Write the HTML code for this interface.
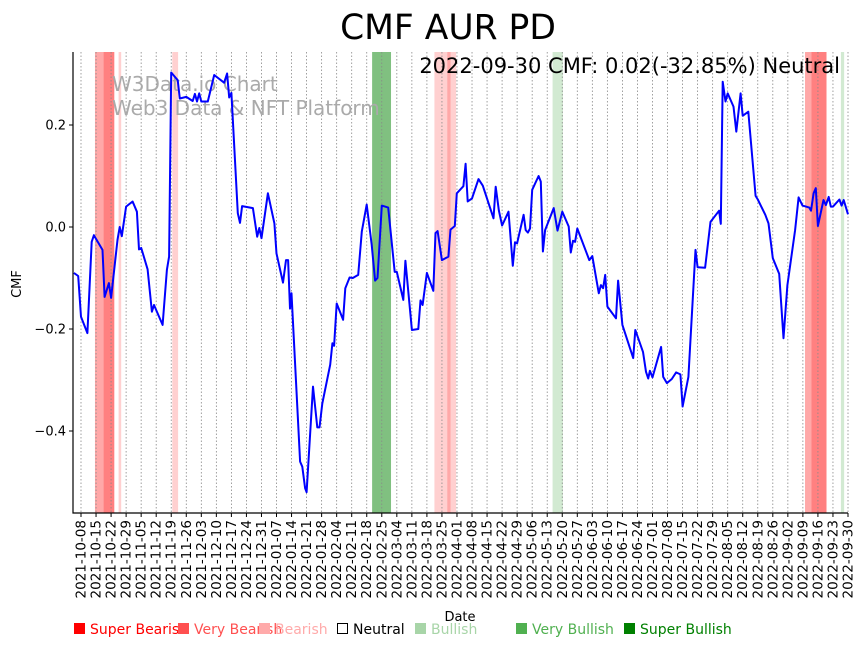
<!DOCTYPE html>
<html><head><meta charset="utf-8"><style>
body{margin:0;background:#fff;}
svg{font-family:"DejaVu Sans","Liberation Sans",sans-serif;}
</style></head><body>
<svg id="chart" width="864" height="646" viewBox="0 0 864 646" xmlns="http://www.w3.org/2000/svg">
<text x="448" y="39" text-anchor="middle" font-size="34.5">CMF AUR PD</text>
<g id="bands"></g>
<g id="grid"></g>
<g fill="#aaa" font-size="20">
<text x="112" y="91">W3Data.io Chart</text>
<text x="112" y="115">Web3 Data &amp; NFT Platform</text>
</g>
<path id="line" fill="none" stroke="#0000ff" stroke-width="2" stroke-linejoin="round"/>
<g id="axes"></g>
<text x="840" y="73" text-anchor="end" font-size="21">2022-09-30 CMF: 0.02(-32.85%) Neutral</text>
<text transform="translate(21,284) rotate(-90)" text-anchor="middle" font-size="13">CMF</text>
<text x="460" y="621" text-anchor="middle" font-size="13">Date</text>
<g id="legend"></g>
</svg>
<script>
// data: days since 2021-10-08
const days=[-3.3,-1.3,0,3,5,6,10,11,13,14,17,18,19,21,24,26,27,28,31,33,34,38,40,41,42,45,46,49,52,53,54,55,56,59,62,66.6,68,69,70,73,74,75,80,82,83,84,87,90,91,94,95.4,96.4,97.3,98,102,103,104.3,105,108,110,111,112.3,116,117,117.8,119,122,123,125,126.5,129,130.7,133,135.3,136.9,138,140,143,146,147,150,151,154,157,158,159,161,164,165,166,168,171,172,174,174.9,178,179,180,182,185,187,192,193,194.5,196,199,201,202,203,206,207,208,209,210,213,214,215,216,220,221.8,224,227,228,229,230,231,236.6,238,241,242,243,244,245,249,250,252,257,258,261.6,263,264,264.8,266,270,271,272.7,275,277,279,280,282.7,286,287,290.5,293,297,297.8,298.7,300,301,303.7,305,307,308,310.6,314,315,318.5,320,322,325,327,328.8,332.4,334,335.8,339,339.8,341,342,343,345.6,346.7,348,349,350,353,354,355,357];
const cmf=[-0.09,-0.096,-0.176,-0.208,-0.029,-0.016,-0.045,-0.137,-0.11,-0.139,-0.025,0.0,-0.018,0.04,0.05,0.03,-0.044,-0.041,-0.083,-0.166,-0.153,-0.192,-0.084,-0.058,0.303,0.288,0.252,0.255,0.247,0.261,0.246,0.262,0.246,0.246,0.298,0.283,0.301,0.254,0.263,0.027,0.008,0.041,0.037,-0.019,-0.002,-0.022,0.066,0.007,-0.052,-0.109,-0.065,-0.065,-0.16,-0.13,-0.46,-0.47,-0.512,-0.52,-0.313,-0.393,-0.393,-0.346,-0.27,-0.228,-0.233,-0.15,-0.182,-0.12,-0.099,-0.1,-0.094,-0.009,0.044,-0.035,-0.105,-0.1,0.042,0.038,-0.088,-0.088,-0.143,-0.066,-0.202,-0.2,-0.144,-0.153,-0.09,-0.125,-0.012,-0.008,-0.065,-0.058,-0.005,0.002,0.066,0.08,0.124,0.05,0.056,0.094,0.081,0.017,0.079,0.032,0.003,0.03,-0.076,-0.03,-0.032,0.024,-0.006,-0.011,-0.003,0.073,0.1,0.089,-0.048,-0.006,0.037,-0.007,0.03,0.001,-0.05,-0.027,-0.029,-0.003,-0.065,-0.057,-0.13,-0.114,-0.12,-0.094,-0.156,-0.179,-0.105,-0.192,-0.257,-0.202,-0.245,-0.284,-0.297,-0.282,-0.295,-0.235,-0.294,-0.306,-0.298,-0.285,-0.289,-0.352,-0.294,-0.045,-0.079,-0.08,0.01,0.032,0.006,0.285,0.246,0.262,0.236,0.187,0.262,0.218,0.226,0.061,0.054,0.024,0.007,-0.061,-0.092,-0.218,-0.114,-0.006,0.058,0.042,0.038,0.032,0.066,0.076,0.002,0.053,0.043,0.059,0.04,0.04,0.054,0.042,0.053,0.025];
const yTicks=[0.2,0.0,-0.2,-0.4];
const yTickLabels=["0.2","0.0","−0.2","−0.4"];
const xTickLabels=["2021-10-08","2021-10-15","2021-10-22","2021-10-29","2021-11-05","2021-11-12","2021-11-19","2021-11-26","2021-12-03","2021-12-10","2021-12-17","2021-12-24","2021-12-31","2022-01-07","2022-01-14","2022-01-21","2022-01-28","2022-02-04","2022-02-11","2022-02-18","2022-02-25","2022-03-04","2022-03-11","2022-03-18","2022-03-25","2022-04-01","2022-04-08","2022-04-15","2022-04-22","2022-04-29","2022-05-06","2022-05-13","2022-05-20","2022-05-27","2022-06-03","2022-06-10","2022-06-17","2022-06-24","2022-07-01","2022-07-08","2022-07-15","2022-07-22","2022-07-29","2022-08-05","2022-08-12","2022-08-19","2022-08-26","2022-09-02","2022-09-09","2022-09-16","2022-09-23","2022-09-30"];
// signal bands: start day, end day, level
const bandStart=[6.5,10.5,17.5,42.5,135.5,164.5,170.5,219.5,337,340];
const bandEnd=[10.5,15.5,18.7,45.2,144.3,174.6,172,224.3,340,347];
const bandLevel=["vbear2","vbear","bear","bear","vbull","bear","vbear2","bull","vbear2","vbear"];
const bandStart2=[353.7];const bandEnd2=[355.2];const bandLevel2=["bull"];

const NS="http://www.w3.org/2000/svg";
const X0=81,PXD=767/357,Y0=227,PXV=510,L=73,R=848,T=52,B=513;
const xs=d=>X0+d*PXD, ys=v=>Y0-v*PXV;
function mk(tag,attrs,parent){const e=document.createElementNS(NS,tag);for(const k in attrs)e.setAttribute(k,attrs[k]);parent.appendChild(e);return e;}
const colors={vbear:"#ff8080",vbear2:"#ffa8a8",bear:"#ffd0d0",bull:"#d2ead2",vbull:"#80c080"};
const bands=document.getElementById('bands');
const allS=bandStart.concat(bandStart2),allE=bandEnd.concat(bandEnd2),allL=bandLevel.concat(bandLevel2);
for(let i=0;i<allS.length;i++){
 const r=mk('rect',{x:xs(allS[i]),y:T,width:xs(allE[i])-xs(allS[i]),height:B-T,fill:colors[allL[i]]},bands);
 
 
}
const grid=document.getElementById('grid'),axes=document.getElementById('axes');
xTickLabels.forEach((lab,i)=>{
 const x=xs(i*7);
 const g=mk('line',{x1:x,x2:x,y1:T,y2:B,stroke:"#888",'stroke-width':0.8,'stroke-dasharray':"1.5,2"},grid);
 
 
 mk('line',{x1:x,x2:x,y1:B,y2:B+4,stroke:"#000",'stroke-width':1},axes);
 const t=mk('text',{transform:`translate(${x+4.5},${B+7}) rotate(-90)`,'text-anchor':'end','font-size':13.5},axes);
 t.textContent=lab;
 
 
});
yTicks.forEach((v,i)=>{
 const y=ys(v);
 mk('line',{x1:L-4,x2:L,y1:y,y2:y,stroke:"#000"},axes);
 const t=mk('text',{x:L-7,y:y+4.5,'text-anchor':'end','font-size':13},axes);
 t.textContent=yTickLabels[i];
 
 
});
const sp=mk('path',{d:`M${L},${T}V${B}H${R}`,fill:'none',stroke:'#000','stroke-width':1.2},axes);


document.getElementById('line').setAttribute('d',days.map((d,i)=>(i?'L':'M')+xs(d).toFixed(1)+','+ys(cmf[i]).toFixed(1)).join(''));
const legNames=["Super Bearish","Very Bearish","Bearish","Neutral","Bullish","Very Bullish","Super Bullish"];
const legColors=["#ff0000","#ff5050","#ffaaaa","#000000","#a8d5a8","#50b050","#008000"];
const legX=[74,178,259,337,415,516,624];
const lg=document.getElementById('legend');
legNames.forEach((n,i)=>{
 const g=mk('g',{},lg);
 
 
 if(i===3) mk('rect',{x:legX[i]+0.5,y:623.5,width:10,height:10,fill:'none',stroke:'#000'},g);
 else mk('rect',{x:legX[i],y:623,width:11,height:11,fill:legColors[i]},g);
 const t=mk('text',{x:legX[i]+16,y:634,'font-size':14,fill:legColors[i]},g);
 t.textContent=n;
});
</script>
</body></html>
